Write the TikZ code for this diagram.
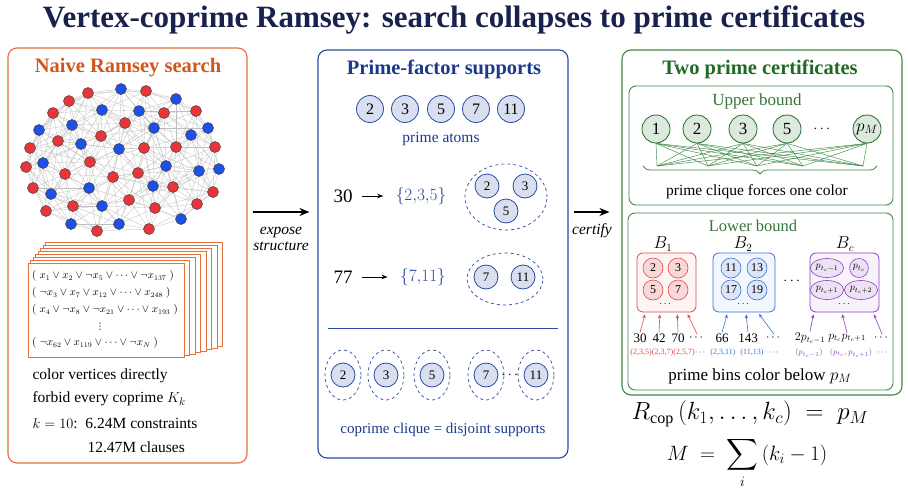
\documentclass[tikz,border=0pt]{standalone}
\usepackage{amsmath,amssymb}
\usepackage{fontspec}
\setmainfont{Liberation Serif}
\newfontfamily\symfont{DejaVu Sans}
\usetikzlibrary{positioning,arrows.meta,shapes.geometric,calc,decorations.pathreplacing}
\definecolor{naive}{HTML}{E6703A}
\definecolor{naivetxt}{HTML}{D2561C}
\definecolor{supp}{HTML}{2B4BA3}
\definecolor{supptxt}{HTML}{1B3A8C}
\definecolor{cert}{HTML}{3F8A45}
\definecolor{certtxt}{HTML}{1F6A25}
\definecolor{vred}{HTML}{E8353B}
\definecolor{vblue}{HTML}{1E4FE6}
\definecolor{binred}{HTML}{E4474A}
\definecolor{binblue}{HTML}{3A72D8}
\definecolor{binpurple}{HTML}{8A3FBF}
\definecolor{titlec}{HTML}{18224D}

\begin{document}
\begin{tikzpicture}[x=1pt,y=-1pt,every node/.style={font=\fontsize{15.5}{18}\selectfont}]
    \tikzstyle{panel}=[draw,rounded corners=9pt,line width=1.1pt,fill=white];
    \tikzstyle{ptitle}=[font=\fontsize{20.5}{24}\selectfont\bfseries];
    \tikzstyle{vert}=[circle,draw=black!75,line width=0.5pt,minimum size=11pt,inner sep=0pt];
    \tikzstyle{gedge}=[gray!50,line width=0.3pt];
    \tikzstyle{page}=[draw=naive,fill=white,line width=0.6pt];
    \tikzstyle{clause}=[anchor=west,font=\fontsize{10.5}{12}\selectfont,inner sep=0pt];
    \tikzstyle{atom}=[circle,draw=supp,line width=0.8pt,fill=supp!18,minimum size=27pt,inner sep=0pt,font=\fontsize{16}{18}\selectfont];
    \tikzstyle{satom}=[atom,minimum size=24pt,font=\fontsize{13}{15}\selectfont];
    \tikzstyle{suppset}=[ellipse,draw=supp,dashed,line width=0.7pt,inner sep=0pt];
    \tikzstyle{ucirc}=[circle,draw=certtxt,line width=0.8pt,fill=cert!18,minimum size=28pt,inner sep=0pt,font=\fontsize{17}{19}\selectfont];
    \tikzstyle{certbox}=[draw=cert,rounded corners=7pt,line width=0.9pt,fill=white];
    \tikzstyle{web}=[cert,line width=0.45pt];
    \tikzstyle{bin}=[draw,rounded corners=6pt,line width=0.8pt,minimum height=59pt];
    \tikzstyle{bcirc}=[circle,draw,line width=0.6pt,minimum size=20pt,inner sep=0pt,font=\fontsize{12}{14}\selectfont];
    \tikzstyle{pell}=[ellipse,draw=binpurple,fill=binpurple!15,line width=0.6pt,inner sep=0.5pt,minimum height=19pt,font=\fontsize{10}{12}\selectfont];
    \tikzstyle{num}=[font=\fontsize{13}{15}\selectfont,inner sep=1pt];
    \tikzstyle{tag}=[font=\fontsize{8}{10}\selectfont,inner sep=0pt];
    \tikzstyle{bigarrow}=[-{Stealth[length=10pt,width=8pt]},line width=1.6pt];
    \tikzstyle{binarrow}=[-{Stealth[length=4pt,width=3.5pt]},line width=0.6pt,shorten >=2pt];

    \useasboundingbox[fill=white] (0,0) rectangle (908,496);

    \node[font=\fontsize{31}{34}\selectfont\bfseries,text=titlec] (title) at (454,20)
        {Vertex-coprime Ramsey: search collapses to prime certificates};

    % three panels
    \node[panel,draw=naive,minimum width=239pt,minimum height=415pt] (naive) at (127.5,255.5) {};
    \node[panel,draw=supp,minimum width=250pt,minimum height=408pt] (supp) at (443,254) {};
    \node[panel,draw=cert,minimum width=280pt,minimum height=345pt] (cert) at (762,222.5) {};

    \node[ptitle,text=naivetxt] (ntitle) at (128,68) {Naive Ramsey search};
    \node[ptitle,text=supptxt]  (stitle) at (444,69) {Prime-factor supports};
    \node[ptitle,text=certtxt]  (ctitle) at (760,69) {Two prime certificates};

    % random-looking coloured graph
    \def\gx{{88,121,146,69,176,53,102,139,164,196,39,72,125,154,208,191,58,81,101,30,119,144,176,215,43,90,26,65,113,138,166,199,219,33,51,89,153,173,213,129,73,102,155,197,46,181,71,97,119,149}}
    \def\gy{{93,89,91,101,99,113,110,111,113,111,130,125,123,128,128,135,141,144,136,148,149,148,147,147,163,162,167,174,177,173,166,171,169,188,194,188,186,187,192,200,206,206,208,204,211,219,224,231,224,229}}
    \def\gc{{1,0,1,1,0,1,0,0,1,1,0,0,1,0,0,0,1,0,1,1,0,1,1,1,0,1,1,1,1,1,0,0,0,1,0,0,0,1,1,1,1,0,1,1,1,0,0,1,0,1}}
    \foreach \n in {0,...,49}{
        \pgfmathsetmacro\vx{\gx[\n]}
        \pgfmathsetmacro\vy{\gy[\n]}
        \coordinate (v\n) at (\vx,\vy);
    }
    \foreach \i in {0,...,49}{
        \foreach \j in {0,...,49}{
            \ifnum\j>\i
                \pgfmathsetmacro\gd{veclen(\gx[\i]-\gx[\j],\gy[\i]-\gy[\j])}
                \ifdim\gd pt<62pt \draw[gedge] (v\i) -- (v\j); \fi
            \fi
        }
    }
    \foreach \n in {0,...,49}{
        \pgfmathtruncatemacro\vc{\gc[\n]}
        \ifnum\vc=1 \def\vcol{vred}\else\def\vcol{vblue}\fi
        \node[vert,fill=\vcol] (vn\n) at (v\n) {};
    }

    % stack of clause pages
    \foreach \k in {7,...,1}
        \draw[page] (28+2.5*\k,263-3*\k) rectangle (184+5.5*\k,357-1.5*\k);
    \node[page,minimum width=156pt,minimum height=94pt] (clauses) at (106,310) {};
    \node[clause] (cl1) at (32,276) {$(\;x_1 \vee x_2 \vee \neg x_5 \vee \dots \vee \neg x_{137}\;)$};
    \node[clause] (cl2) at (32,293) {$(\;\neg x_3 \vee x_7 \vee x_{12} \vee \dots \vee x_{248}\;)$};
    \node[clause] (cl3) at (32,310) {$(\;x_4 \vee \neg x_8 \vee \neg x_{21} \vee \dots \vee x_{193}\;)$};
    \node[font=\fontsize{9}{10}\selectfont\symfont,inner sep=0pt] (cl4) at (100,327) {⋮};
    \node[clause] (cl5) at (32,343) {$(\;\neg x_{62} \vee x_{119} \vee \dots \vee \neg x_N\;)$};

    \node[anchor=west] (t1) at (29,376) {color vertices directly};
    \node[anchor=west] (t2) at (29,399) {forbid every coprime $K_k$};
    \node[anchor=west] (t3) at (29,423) {$k=10$:\ \ 6.24M constraints};
    \node[anchor=west] (t4) at (84,447) {12.47M clauses};

    % arrows between panels
    \coordinate (ex) at (281,212);
    \coordinate (cx) at (592,212);
    \draw[bigarrow,shorten <=5pt,shorten >=8pt] (naive.east |- ex) -- (supp.west |- ex);
    \draw[bigarrow,shorten <=5pt,shorten >=12pt] (supp.east |- cx) -- (cert.west |- cx);
    \node[font=\fontsize{15.5}{16}\selectfont\itshape,align=center] (exlab) at (281,239) {expose\\structure};
    \node[font=\fontsize{15.5}{16}\selectfont\itshape] (cxlab) at (592,231) {certify};

    % prime-factor supports
    \foreach \x/\p in {370/2,405/3,441/5,476/7,511/11}
        \node[atom] (a\p) at (\x,109) {\p};
    \node[text=supptxt,font=\fontsize{15.5}{18}\selectfont] (atoms) at (441,139) {prime atoms};

    \node[font=\fontsize{19}{22}\selectfont] (m30) at (343,196) {30};
    \node[font=\fontsize{18}{22}\selectfont,text=supp] (f30) at (421,196) {$\{2{,}3{,}5\}$};
    \draw[-{Stealth[length=6pt]},line width=0.8pt,shorten <=6pt,shorten >=9pt] (m30) -- (f30);
    \node[suppset,minimum width=82pt,minimum height=66pt] (s30) at (506,197) {};
    \node[satom] (b2) at (487,186) {2};
    \node[satom] (b3) at (525,186) {3};
    \node[satom] (b5) at (506,211) {5};

    \node[font=\fontsize{19}{22}\selectfont] (m77) at (343,277) {77};
    \node[font=\fontsize{18}{22}\selectfont,text=supp] (f77) at (423,277) {$\{7{,}11\}$};
    \draw[-{Stealth[length=6pt]},line width=0.8pt,shorten <=6pt,shorten >=9pt] (m77) -- (f77);
    \node[suppset,minimum width=76pt,minimum height=52pt] (s77) at (505,279) {};
    \node[satom] (b7) at (486,277) {7};
    \node[satom] (b11) at (523,277) {11};

    \draw[supp,line width=0.9pt] (328,328) -- (558,328);

    \foreach \x/\p in {343/2,386/3,432/5,486/7,536/11}{
        \node[suppset,minimum width=36pt,minimum height=50pt] (d\p) at (\x,375) {};
        \node[satom] (c\p) at (\x,375) {\p};
    }
    \node (cdots) at (511,375) {$\cdots$};
    \node[text=supptxt,font=\fontsize{15}{18}\selectfont] (disj) at (443,430) {coprime clique = disjoint supports};

    % upper bound certificate
    \node[certbox,minimum width=264pt,minimum height=119pt] (upper) at (761,145.5) {};
    \node[text=cert!85!black,font=\fontsize{17}{19}\selectfont] (ulab) at (757,101) {Upper bound};
    \foreach \x [count=\j] in {657,708,757,803,863}
        \coordinate (w\j) at (\x,166);
    \foreach \x/\lab [count=\i] in {656/1,697/2,743/3,787/5,867/$p_M$}
        \node[ucirc] (u\i) at (\x,129) {\lab};
    \foreach \i in {1,...,5}
        \foreach \j in {1,...,5}
            \draw[web] (u\i.south) -- (w\j);
    \node (udots) at (823,129) {$\cdots$};
    \draw[decorate,decoration={brace,mirror,amplitude=8pt},cert,line width=0.8pt] (643,166) -- (877,166);
    \node (ucap) at (757,192) {prime clique forces one color};

    % lower bound certificate
    \node[certbox,minimum width=265pt,minimum height=177pt] (lower) at (760.5,301.5) {};
    \node[text=cert!85!black,font=\fontsize{16.5}{19}\selectfont,inner sep=1pt] (llab) at (753,226) {Lower bound};
    \node[font=\fontsize{16}{18}\selectfont,inner sep=1pt] (lb1) at (663,244) {$B_1$};
    \node[font=\fontsize{16}{18}\selectfont,inner sep=1pt] (lb2) at (743,244) {$B_2$};
    \node[font=\fontsize{16}{18}\selectfont,inner sep=1pt] (lbc) at (845,244) {$B_c$};
    \node[bin,draw=binred,fill=binred!6,minimum width=59pt] (bin1) at (666.5,282.5) {};
    \node[bin,draw=binblue,fill=binblue!6,minimum width=62pt] (bin2) at (744,282.5) {};
    \node[bin,draw=binpurple,fill=binpurple!6,minimum width=69pt] (binc) at (844.5,282.5) {};

    \node[bcirc,draw=binred,fill=binred!22] (r2) at (653,268) {2};
    \node[bcirc,draw=binred,fill=binred!22] (r3) at (678,268) {3};
    \node[bcirc,draw=binred,fill=binred!22] (r5) at (653,290) {5};
    \node[bcirc,draw=binred,fill=binred!22] (r7) at (678,290) {7};
    \node[font=\fontsize{10}{12}\selectfont] (rdots) at (666,304) {$\cdots$};
    \node[bcirc,draw=binblue,fill=binblue!18] (q11) at (731,268) {11};
    \node[bcirc,draw=binblue,fill=binblue!18] (q13) at (757,268) {13};
    \node[bcirc,draw=binblue,fill=binblue!18] (q17) at (731,290) {17};
    \node[bcirc,draw=binblue,fill=binblue!18] (q19) at (757,290) {19};
    \node[font=\fontsize{10}{12}\selectfont] (qdots) at (744,304) {$\cdots$};
    \node[pell] (pa) at (827,268) {$p_{t_c-1}$};
    \node[pell] (pb) at (859,268) {$p_{t_c}$};
    \node[pell] (pc) at (827,290) {$p_{t_c+1}$};
    \node[pell] (pd) at (861,290) {$p_{t_c+2}$};
    \node[font=\fontsize{10}{12}\selectfont] (pdots) at (845,304) {$\cdots$};
    \node (bdots) at (793,281) {$\cdots$};

    \node[num] (n30) at (640,338) {30};
    \node[num] (n42) at (659,338) {42};
    \node[num] (n70) at (678,338) {70};
    \node[num] (nr) at (697,338) {$\cdots$};
    \node[num] (n66) at (722,338) {66};
    \node[num] (n143) at (748,338) {143};
    \node[num] (nb) at (774,338) {$\cdots$};
    \node[num,font=\fontsize{12}{14}\selectfont] (np1) at (810,338) {$2p_{t_c-1}$};
    \node[num,font=\fontsize{12}{14}\selectfont] (np2) at (847,338) {$p_{t_c}p_{t_c+1}$};
    \node[num] (np) at (882,338) {$\cdots$};

    \draw[binarrow,binred] (n30.north) -- ($(bin1.south west)!0.15!(bin1.south east)$);
    \draw[binarrow,binred] (n42.north) -- ($(bin1.south west)!0.39!(bin1.south east)$);
    \draw[binarrow,binred] (n70.north) -- ($(bin1.south west)!0.68!(bin1.south east)$);
    \draw[binarrow,binred] (nr.north) -- ($(bin1.south west)!0.84!(bin1.south east)$);
    \draw[binarrow,binblue] (n66.north) -- ($(bin2.south west)!0.24!(bin2.south east)$);
    \draw[binarrow,binblue] (n143.north) -- ($(bin2.south west)!0.53!(bin2.south east)$);
    \draw[binarrow,binblue] (nb.north) -- ($(bin2.south west)!0.72!(bin2.south east)$);
    \draw[binarrow,binpurple] (np1.north) -- ($(binc.south west)!0.06!(binc.south east)$);
    \draw[binarrow,binpurple] (np2.north) -- ($(binc.south west)!0.46!(binc.south east)$);
    \draw[binarrow,binpurple] (np.north) -- ($(binc.south west)!0.91!(binc.south east)$);

    \node[tag,text=binred] (g1) at (641,353) {(2,3,5)};
    \node[tag,text=binred] (g2) at (662.5,353) {(2,3,7)};
    \node[tag,text=binred] (g3) at (684,353) {(2,5,7)};
    \node[tag] (g4) at (701,353) {$\cdots$};
    \node[tag,text=binblue] (g5) at (723,353) {(2,3,11)};
    \node[tag,text=binblue] (g6) at (752,353) {(11,13)};
    \node[tag] (g7) at (774,353) {$\cdots$};
    \node[tag,text=binpurple] (g8) at (809,353) {$(p_{t_c-1})$};
    \node[tag,text=binpurple] (g9) at (851,353) {$(p_{t_c},p_{t_c+1})$};
    \node[tag] (g10) at (883,353) {$\cdots$};
    \node[font=\fontsize{17}{19}\selectfont] (lcap) at (760,376) {prime bins color below $p_M$};

    % the two certificates meet
    \node[font=\fontsize{23}{26}\selectfont,inner sep=0pt] (rcop) at (750,414) {$R_{\mathrm{cop}}\,(k_1,\dots,k_c)\;=\;p_M$};
    \node[font=\fontsize{22}{26}\selectfont,inner sep=0pt] (msum) at (747,463) {$M\;=\;\displaystyle\sum_i\,(k_i-1)$};
  \end{tikzpicture}
\end{document}
